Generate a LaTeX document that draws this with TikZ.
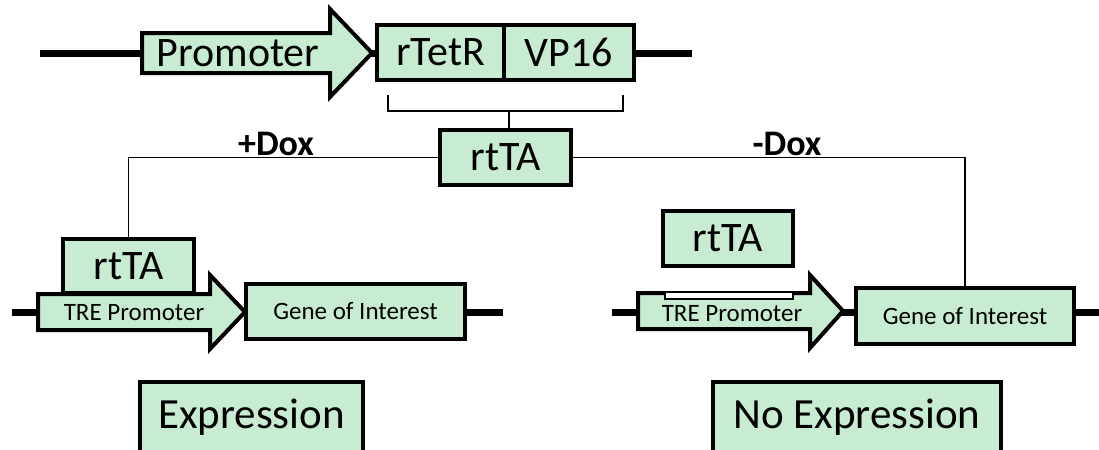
\documentclass[tikz,border=0pt]{standalone}
\usepackage{fontspec}
\setmainfont{Carlito}
\usetikzlibrary{calc,positioning}
\definecolor{boxgreen}{RGB}{200,236,210}
\newcommand{\bigfont}{\fontsize{21}{24}\selectfont}
\newcommand{\smallfont}{\fontsize{12.5}{15}\selectfont}

\begin{document}
\begin{tikzpicture}[x=0.5pt,y=-0.5pt,
    box/.style={draw,line width=2pt,fill=boxgreen,inner sep=0pt,outer sep=0pt},
    promo/.style={draw,line width=2pt,fill=boxgreen,line join=miter},
    dna/.style={line width=3.5pt},
    link/.style={line width=0.8pt},
    brace/.style={line width=1.2pt},
    dox/.style={font=\bfseries\fontsize{18}{21}\selectfont},
    cut/.style={box,anchor=base,text height=14pt,text depth=10pt,minimum height=42pt,font=\fontsize{21.5}{24}\selectfont}]
  \useasboundingbox (0,0) rectangle (1099,450);

  % top construct
  \coordinate (dnaA) at (40,53);
  \coordinate (dnaB) at (692,53);
  \draw[dna] (dnaA) -- (dnaB);
  \draw[promo] (142,33) -- (330,33) -- (330,9) -- (372,53) -- (330,97) -- (330,73) -- (142,73) -- cycle;
  \node[font=\bigfont] (prom) at (238,53) {Promoter};
  \node[box,minimum width=63.5pt,minimum height=27.5pt,font=\bigfont] (tetr) at (440.5,52.5) {rTetR};
  \node[box,minimum width=65pt,minimum height=27.5pt,font=\bigfont,right=0pt of tetr] (vp) {VP16};

  % fusion protein
  \draw[brace] (388,95) -- (388,111) -- (623,111) -- (623,95);
  \coordinate (brk) at (509,111);
  \node[box,minimum width=65.5pt,minimum height=27.5pt,font=\bigfont] (rtta) at (505.5,157.5) {rtTA};
  \draw[brace] (brk) -- (brk |- rtta.north);
  \node[dox] (plus) at (276,144) {+Dox};
  \node[dox] (minus) at (787,144) {-Dox};

  % +Dox
  \draw[dna] (12,312) -- (503,312);
  \node[box,minimum width=65.5pt,minimum height=27pt,font=\bigfont] (rttaL) at (128.5,266) {rtTA};
  \draw[promo] (38,294) -- (210,294) -- (210,275) -- (245,312) -- (210,349) -- (210,330) -- (38,330) -- cycle;
  \node[font=\smallfont] (treL) at (134,313) {TRE Promoter};
  \node[box,minimum width=109.5pt,minimum height=27.5pt,font=\smallfont] (geneL) at (355.5,311) {Gene of Interest};
  \node[cut,minimum width=111.5pt] (expr) at (251.5,428) {Expression};

  % -Dox
  \draw[dna] (612,312) -- (1099,312);
  \node[box,minimum width=65pt,minimum height=27.5pt,font=\bigfont] (rttaR) at (728,238.5) {rtTA};
  \draw[promo] (638,293) -- (810,293) -- (810,275) -- (843,311) -- (810,348) -- (810,329) -- (638,329) -- cycle;
  \draw[fill=white,line width=0.6pt] (665,292) rectangle (793,299);
  \node[font=\smallfont] (treR) at (732,314) {TRE Promoter};
  \node[box,minimum width=109pt,minimum height=28pt,font=\smallfont] (geneR) at (965,316) {Gene of Interest};
  \node[cut,minimum width=144pt] (noexpr) at (857,428) {No Expression};

  % branches
  \draw[link] (rtta.west) -| (rttaL.north);
  \draw[link] (rtta.east) -| (geneR.north);
\end{tikzpicture}
\end{document}
